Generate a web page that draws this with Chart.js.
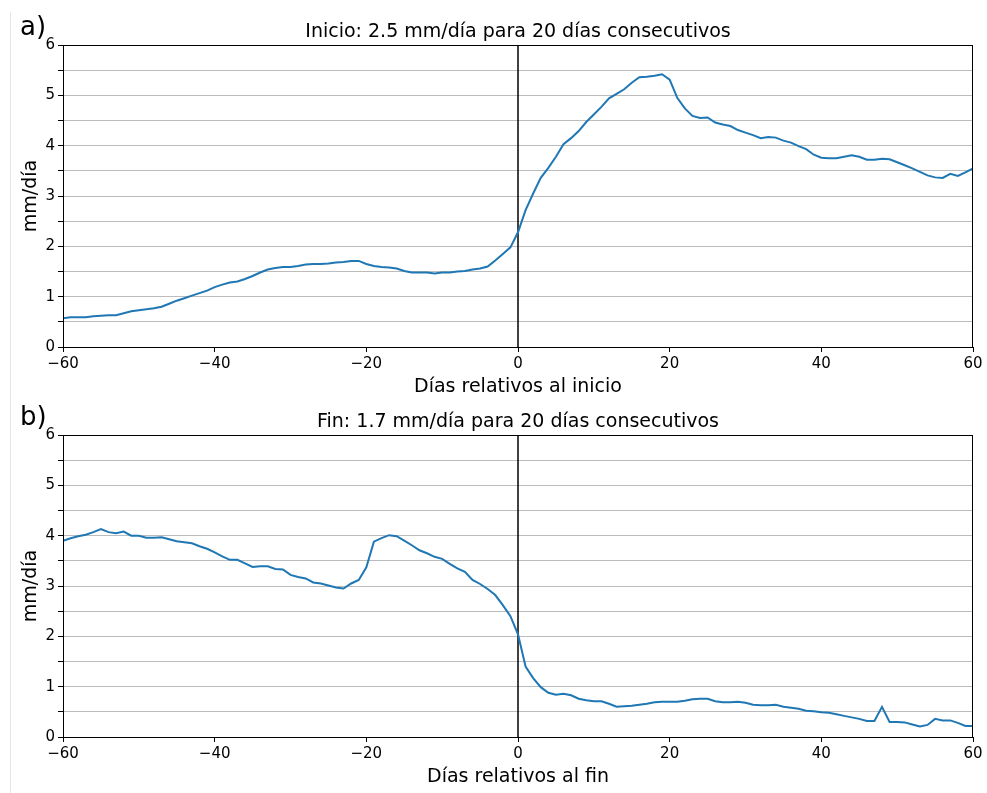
<!DOCTYPE html>
<html>
<head>
<meta charset="utf-8">
<script src="https://cdn.jsdelivr.net/npm/chart.js@4.4.0/dist/chart.umd.min.js"></script>
<style>
  body { margin: 0; background: #fff; }
  #wrap { position: relative; width: 987px; height: 793px; overflow: hidden; }
  #wrap canvas { position: absolute; left: 0; }
  #edge { position: absolute; left: 10px; top: 12px; bottom: 0; border-left: 1px solid #e6e6e6; }
</style>
</head>
<body>
<div id="wrap">
  <div id="edge"></div>
  <canvas id="chartA" width="987" height="403" style="top:0"></canvas>
  <canvas id="chartB" width="987" height="403" style="top:390px"></canvas>
</div>
<script>
// days relative to the event, -60 .. 60
const days = Array.from({ length: 121 }, (_, i) => i - 60);

// mm/día around the onset
const inicioMm = [
  0.57, 0.59, 0.59, 0.59, 0.61, 0.62, 0.63, 0.63, 0.67, 0.71,
  0.73, 0.75, 0.77, 0.80, 0.86, 0.92, 0.97, 1.02, 1.07, 1.12,
  1.19, 1.24, 1.28, 1.30, 1.35, 1.41, 1.48, 1.54, 1.57, 1.59,
  1.59, 1.61, 1.64, 1.65, 1.65, 1.66, 1.68, 1.69, 1.71, 1.71,
  1.65, 1.61, 1.59, 1.58, 1.56, 1.51, 1.48, 1.48, 1.48, 1.46,
  1.48, 1.48, 1.50, 1.51, 1.54, 1.56, 1.60, 1.72, 1.85, 1.98,
  2.28,
  2.72, 3.05, 3.36, 3.56, 3.78, 4.03, 4.15, 4.29, 4.47, 4.62,
  4.77, 4.94, 5.03, 5.12, 5.25, 5.36, 5.37, 5.39, 5.42, 5.31,
  4.95, 4.74, 4.59, 4.55, 4.56, 4.46, 4.42, 4.39, 4.31, 4.26,
  4.21, 4.15, 4.17, 4.16, 4.10, 4.06, 3.99, 3.93, 3.82, 3.76,
  3.75, 3.75, 3.78, 3.81, 3.78, 3.72, 3.72, 3.74, 3.73, 3.67,
  3.61, 3.55, 3.48, 3.41, 3.37, 3.36, 3.44, 3.40, 3.47, 3.55
];

// mm/día around the end
const finMm = [
  3.90, 3.95, 3.99, 4.02, 4.07, 4.13, 4.07, 4.05, 4.08, 4.00,
  4.00, 3.96, 3.96, 3.97, 3.93, 3.89, 3.87, 3.85, 3.79, 3.74,
  3.67, 3.59, 3.52, 3.52, 3.45, 3.38, 3.39, 3.39, 3.34, 3.33,
  3.22, 3.18, 3.15, 3.07, 3.05, 3.01, 2.97, 2.95, 3.05, 3.12,
  3.37, 3.88, 3.95, 4.01, 3.99, 3.90, 3.81, 3.71, 3.65, 3.58,
  3.54, 3.44, 3.35, 3.28, 3.12, 3.04, 2.94, 2.82, 2.62, 2.40,
  2.04,
  1.40, 1.17, 0.99, 0.88, 0.84, 0.86, 0.83, 0.76, 0.73, 0.71,
  0.71, 0.66, 0.60, 0.61, 0.62, 0.64, 0.66, 0.69, 0.70, 0.70,
  0.70, 0.72, 0.75, 0.76, 0.76, 0.71, 0.69, 0.69, 0.70, 0.68,
  0.64, 0.63, 0.63, 0.64, 0.60, 0.58, 0.56, 0.52, 0.51, 0.49,
  0.48, 0.45, 0.42, 0.39, 0.36, 0.32, 0.32, 0.60, 0.30, 0.30,
  0.29, 0.25, 0.21, 0.24, 0.36, 0.33, 0.33, 0.28, 0.22, 0.22
];

const xTicks = [-60, -40, -20, 0, 20, 40, 60];
const yTicks = [0, 1, 2, 3, 4, 5, 6];

const FONT = "'DejaVu Sans', sans-serif";

// title, panel letter and the frame around the plot
const decorations = {
  id: "decorations",
  afterDraw(chart, args, opts) {
    const { ctx, chartArea } = chart;
    ctx.save();
    ctx.strokeStyle = "#000";
    ctx.lineWidth = 1;
    ctx.strokeRect(chartArea.left + 0.5, chartArea.top + 0.5,
      chartArea.right - chartArea.left - 1, chartArea.bottom - chartArea.top);
    ctx.fillStyle = "#000";
    ctx.textBaseline = "alphabetic";
    ctx.textAlign = "center";
    ctx.font = "19px " + FONT;
    ctx.fillText(opts.title, (chartArea.left + chartArea.right) / 2, 37);
    ctx.textAlign = "left";
    ctx.textBaseline = "middle";
    ctx.font = "26px " + FONT;
    ctx.fillText(opts.panel, 20, 28);
    ctx.restore();
  }
};

function makeChart(id, values, title, panel, xLabel) {
  const points = days.map((d, i) => ({ x: d, y: values[i] }));
  return new Chart(document.getElementById(id), {
    type: "line",
    data: {
      datasets: [
        {
          data: points,
          borderColor: "#1f77b4",
          borderWidth: 2,
          pointRadius: 0,
          tension: 0
        },
        {
          // vertical line at day 0
          data: [{ x: 0, y: 0 }, { x: 0, y: 6 }],
          borderColor: "#000",
          borderWidth: 1.5,
          pointRadius: 0
        }
      ]
    },
    options: {
      responsive: false,
      animation: false,
      devicePixelRatio: 1,
      layout: { padding: { left: 0, right: 14, top: 45, bottom: 0 } },
      plugins: {
        legend: { display: false },
        tooltip: { enabled: false },
        decorations: { title: title, panel: panel }
      },
      scales: {
        x: {
          type: "linear",
          min: -60,
          max: 60,
          afterFit: s => { s.height = 56; },
          afterBuildTicks: s => { s.ticks = xTicks.map(v => ({ value: v })); },
          ticks: {
            color: "#000",
            font: { family: FONT, size: 15 },
            padding: 3,
            maxRotation: 0,
            callback: v => (v < 0 ? "\u2212" + Math.abs(v) : String(v))
          },
          grid: { drawOnChartArea: false, color: "#000", tickLength: 5 },
          border: { color: "#000" },
          title: {
            display: true,
            text: xLabel,
            color: "#000",
            font: { family: FONT, size: 19 },
            padding: { top: 0, bottom: 5 }
          }
        },
        y: {
          min: 0,
          max: 6,
          afterFit: s => { s.width = 63; },
          ticks: {
            stepSize: 0.5,
            color: "#000",
            font: { family: FONT, size: 15 },
            padding: 3,
            callback: v => (yTicks.includes(v) ? String(v) : "")
          },
          grid: {
            color: c => (c.tick && (c.tick.value === 0 || c.tick.value === 6) ? "#000" : "#bcbcbc"),
            tickColor: "#000",
            tickLength: 5
          },
          border: { color: "#000" },
          title: {
            display: true,
            text: "mm/día",
            color: "#000",
            font: { family: FONT, size: 19 },
            padding: { top: 20, bottom: 0 }
          }
        }
      }
    },
    plugins: [decorations]
  });
}

makeChart("chartA", inicioMm, "Inicio: 2.5 mm/día para 20 días consecutivos", "a)", "Días relativos al inicio");
makeChart("chartB", finMm, "Fin: 1.7 mm/día para 20 días consecutivos", "b)", "Días relativos al fin");
</script>
</body>
</html>
